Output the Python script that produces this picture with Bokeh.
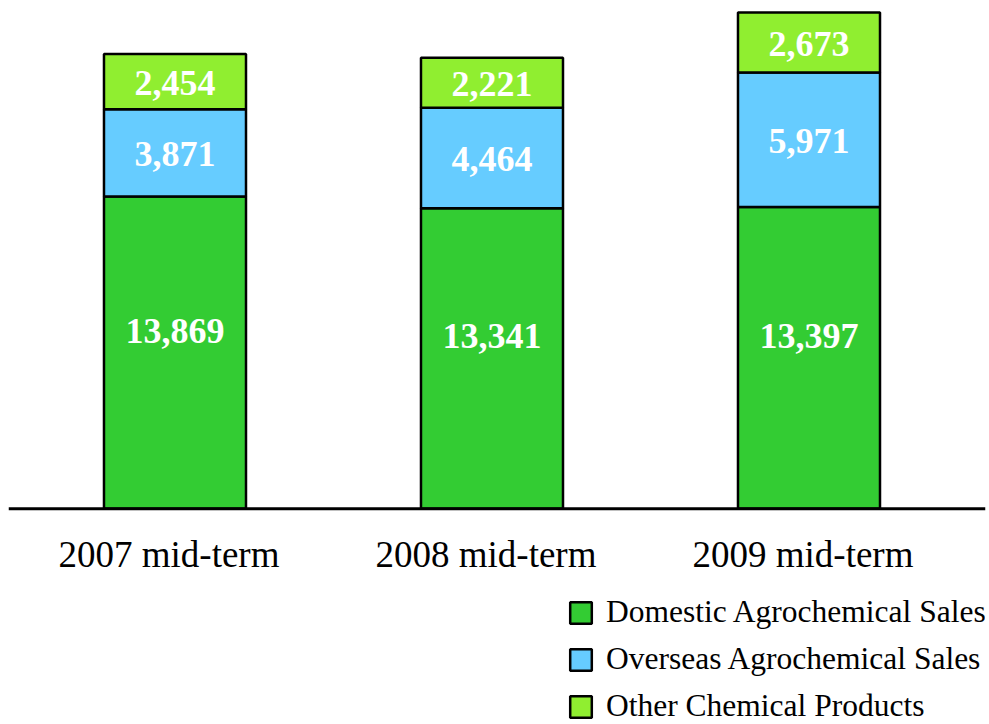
from bokeh.plotting import figure
from bokeh.models import ColumnDataSource, Range1d, Span, Legend, LegendItem
from bokeh.core.properties import value
from bokeh.embed import file_html
from bokeh.resources import INLINE
import numpy as np

# Sales by period (millions of yen)
periods = ["2007 mid-term", "2008 mid-term", "2009 mid-term"]
domestic = [13869, 13341, 13397]
overseas = [3871, 4464, 5971]
other = [2454, 2221, 2673]

series_names = ["Domestic Agrochemical Sales", "Overseas Agrochemical Sales", "Other Chemical Products"]
series_keys = ["domestic", "overseas", "other"]
colors = ["#33CC33", "#66CCFF", "#90EE30"]

SERIF = "Liberation Serif"

x = list(range(len(periods)))
src = ColumnDataSource(dict(x=x, domestic=domestic, overseas=overseas, other=other))

p = figure(width=989, height=724, output_backend="svg", toolbar_location=None,
           x_range=Range1d(-0.5252, 2.5568), y_range=Range1d(-9587, 22570),
           min_border_left=8, min_border_right=4, min_border_top=0, min_border_bottom=0)
p.axis.visible = False
p.grid.visible = False
p.outline_line_color = None
p.background_fill_color = "white"
p.border_fill_color = "white"

renderers = p.vbar_stack(series_keys, x="x", width=0.448, source=src,
                         fill_color=colors, line_color="black", line_width=2.5)

# baseline
p.add_layout(Span(location=0, dimension="width", line_color="black", line_width=3))

# value labels centred in each segment
vals = np.array([domestic, overseas, other], dtype=float)
tops = np.cumsum(vals, axis=0)
bottoms = tops - vals
for i, key in enumerate(series_keys):
    centers = bottoms[i] + vals[i] / 2
    labels = [f"{int(v):,}" for v in vals[i]]
    lsrc = ColumnDataSource(dict(x=x, y=centers, t=labels))
    p.text(x="x", y="y", text="t", source=lsrc, text_color="white",
           text_font=value(SERIF), text_font_style="bold", text_font_size="36px",
           text_align="center", text_baseline="middle",
           y_offset=-22 if key == "domestic" else 1)

# category labels under the baseline
csrc = ColumnDataSource(dict(x=x, y=[0] * len(periods), t=periods))
p.text(x="x", y="y", text="t", source=csrc, text_color="black",
       text_font=value(SERIF), text_font_size="37px",
       text_align="center", text_baseline="alphabetic", x_offset=-6, y_offset=46)

legend = Legend(items=[LegendItem(label=n, renderers=[r]) for n, r in zip(series_names, renderers)],
                location=(559, 0), orientation="vertical",
                label_text_font=SERIF, label_text_font_size="31.5px", label_text_color="black",
                glyph_width=27, glyph_height=27, label_standoff=12, spacing=11,
                padding=0, margin=0, border_line_color=None, background_fill_alpha=0)
p.add_layout(legend, "center")

open("out.html", "w").write(file_html(p, INLINE))
